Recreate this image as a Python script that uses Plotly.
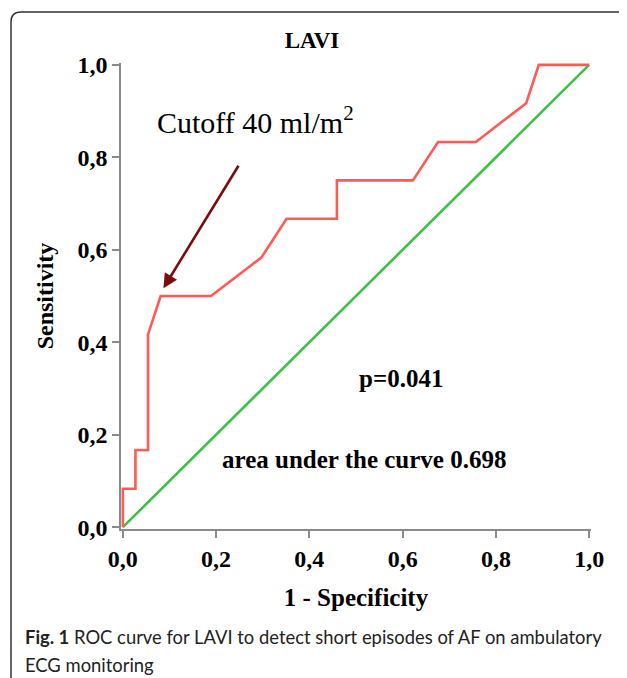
import plotly.graph_objects as go

# ROC data (1 - specificity, sensitivity)
fpr = [0, 0, 0.027, 0.027, 0.054, 0.054, 0.081, 0.189, 0.297, 0.351, 0.459, 0.459,
       0.622, 0.676, 0.757, 0.865, 0.892, 1.0]
tpr = [0, 0.083, 0.083, 0.167, 0.167, 0.417, 0.5, 0.5, 0.583, 0.667, 0.667, 0.75,
       0.75, 0.833, 0.833, 0.917, 1.0, 1.0]
ref_x = [0, 1]
ref_y = [0, 1]
tick_vals = [0, 0.2, 0.4, 0.6, 0.8, 1.0]
tick_text = ["0,0", "0,2", "0,4", "0,6", "0,8", "1,0"]
cutoff_point = (0.087, 0.517)
cutoff_tail = (0.250, 0.785)

OFF = 8  # page body margin
W, H = 627 - OFF, 678 - OFF
L, T, PW, PH = 121 - OFF, 63 - OFF, 470, 466
R, B = W - L - PW, H - T - PH


def px(x):
    return (x - OFF - L) / PW


def py(y):
    return (H - B - (y - OFF)) / PH


serif = "Liberation Serif"
sans = "Lato"

fig = go.Figure()
fig.add_trace(go.Scatter(x=ref_x, y=ref_y, mode="lines",
                         line=dict(color="#3dbf4a", width=2.6), hoverinfo="skip"))
fig.add_trace(go.Scatter(x=fpr, y=tpr, mode="lines",
                         line=dict(color="#ff5a55", width=2.6), hoverinfo="skip"))

border = (f"M {px(11)},{py(700)} L {px(11)},{py(22)} "
          f"Q {px(11)},{py(12)} {px(21)},{py(12)} L {px(640)},{py(12)}")
fig.add_shape(type="path", path=border, xref="paper", yref="paper",
              line=dict(color="#333333", width=1.5), layer="below")

fig.add_annotation(x=cutoff_point[0], y=cutoff_point[1], ax=cutoff_tail[0], ay=cutoff_tail[1],
                   xref="x", yref="y", axref="x", ayref="y", text="", showarrow=True,
                   arrowhead=2, arrowsize=1.1, arrowwidth=2.6, arrowcolor="#7a0c0c")


def label(x, y, text, font, xanchor="center"):
    fig.add_annotation(x=px(x), y=py(y), xref="paper", yref="paper", text=text,
                       showarrow=False, xanchor=xanchor, yanchor="middle", font=font)


label(155, 120, "Cutoff 40 ml/m<sup>2</sup>",
      dict(family=serif, size=30, color="black"), xanchor="left")
label(401, 378, "p=0.041", dict(family=serif, size=25, color="black", weight="bold"))
label(364, 459, "area under the curve 0.698",
      dict(family=serif, size=25, color="black", weight="bold"))
label(23, 637, "<b>Fig. 1</b> ROC curve for LAVI to detect short episodes of AF on ambulatory",
      dict(family=sans, size=18.4, color="#222"), xanchor="left")
label(23, 665, "ECG monitoring", dict(family=sans, size=18.4, color="#222"), xanchor="left")

axis_common = dict(
    range=[-0.004, 1.004], showgrid=False, zeroline=False, showline=True,
    linecolor="#8a8a8a", linewidth=1.5, ticks="outside", ticklen=7, tickwidth=1.5,
    tickcolor="#8a8a8a", tickvals=tick_vals, ticktext=tick_text,
    tickfont=dict(family=serif, size=24, color="black", weight="bold"),
)

fig.update_layout(
    width=W, height=H, margin=dict(l=L, r=R, t=T, b=B),
    plot_bgcolor="white", paper_bgcolor="white", showlegend=False,
    title=dict(text="LAVI", x=(312 - OFF) / W, xanchor="center", y=1 - (40 - OFF) / H,
               yanchor="middle", xref="container", yref="container",
               font=dict(family=serif, size=23, color="black", weight="bold")),
    xaxis=dict(**axis_common, title=dict(text="1 - Specificity", standoff=18,
                                         font=dict(family=serif, size=25, color="black", weight="bold"))),
    yaxis=dict(**axis_common, title=dict(text="Sensitivity", standoff=17,
                                         font=dict(family=serif, size=24, color="black", weight="bold"))),
)

fig.write_html("out.html")
